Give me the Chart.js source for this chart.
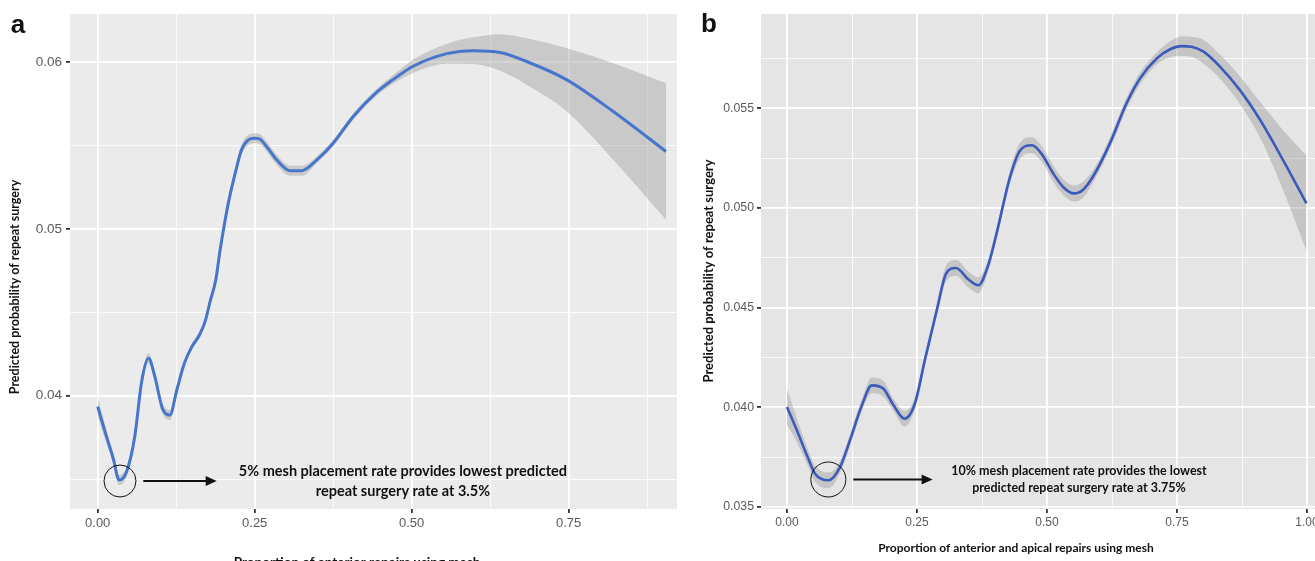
<!DOCTYPE html>
<html>
<head>
<meta charset="utf-8">
<script src="https://cdn.jsdelivr.net/npm/chart.js@4.4.1/dist/chart.umd.min.js"></script>
<style>
  body { margin: 0; background: #fff; }
  #wrap { position: relative; width: 1315px; height: 561px; overflow: hidden; }
  #wrap canvas { position: absolute; top: 0; }
  #chartA { left: 0; }
  #chartB { left: 690px; }
</style>
</head>
<body>
<div id="wrap">
  <canvas id="chartA" width="690" height="561"></canvas>
  <canvas id="chartB" width="650" height="561"></canvas>
</div>
<script>
// panel a: anterior repairs
const xA = [0.000, 0.014, 0.025, 0.034, 0.046, 0.059, 0.070, 0.081, 0.091, 0.103, 0.115, 0.126, 0.138, 0.150,
    0.162, 0.171, 0.179, 0.188, 0.195, 0.208, 0.219, 0.229, 0.240, 0.250, 0.258, 0.270, 0.285, 0.306, 0.325,
    0.349, 0.375, 0.407, 0.444, 0.481, 0.503, 0.556, 0.598, 0.641, 0.683, 0.747, 0.821, 0.905];
const yA = [0.03934, 0.03754, 0.03620, 0.03494, 0.03544, 0.03754, 0.04084, 0.04224, 0.04114, 0.03924, 0.03884,
    0.04034, 0.04194, 0.04294, 0.04364, 0.04444, 0.04565, 0.04694, 0.04875, 0.05155, 0.05335, 0.05475, 0.05535,
    0.05545, 0.05540, 0.05490, 0.05415, 0.05350, 0.05350, 0.05415, 0.05515, 0.05675, 0.05820, 0.05925, 0.05978,
    0.06052, 0.06070, 0.06059, 0.06005, 0.05895, 0.05705, 0.05465];
const seA = [0.0006, 0.0004, 0.0003, 0.0003, 0.0003, 0.0003, 0.0003, 0.0003, 0.0003, 0.0003, 0.0003, 0.0003,
    0.0002, 0.0002, 0.0002, 0.0002, 0.0002, 0.0002, 0.0002, 0.0002, 0.0002, 0.0003, 0.0003, 0.0003, 0.0003,
    0.0003, 0.0003, 0.0003, 0.0003, 0.0002, 0.0002, 0.0002, 0.0002, 0.0003, 0.0004, 0.0006, 0.0008, 0.0011,
    0.0014, 0.0019, 0.0029, 0.0041];

// panel b: anterior and apical repairs
const xB = [0.000, 0.019, 0.041, 0.054, 0.080, 0.102, 0.121, 0.144, 0.163, 0.185, 0.205, 0.226, 0.246, 0.265,
    0.288, 0.306, 0.325, 0.349, 0.368, 0.387, 0.403, 0.429, 0.448, 0.471, 0.490, 0.512, 0.532, 0.552, 0.570,
    0.592, 0.621, 0.653, 0.679, 0.711, 0.737, 0.759, 0.778, 0.801, 0.833, 0.871, 0.910, 0.954, 0.999];
const yB = [0.04002, 0.03885, 0.03742, 0.03667, 0.03634, 0.03700, 0.03834, 0.04010, 0.04110, 0.04094, 0.04010,
    0.03943, 0.04019, 0.04236, 0.04487, 0.04671, 0.04699, 0.04641, 0.04612, 0.04713, 0.04872, 0.05156, 0.05287,
    0.05315, 0.05270, 0.05173, 0.05103, 0.05073, 0.05093, 0.05173, 0.05324, 0.05525, 0.05650, 0.05750, 0.05796,
    0.05812, 0.05809, 0.05784, 0.05708, 0.05591, 0.05441, 0.05240, 0.05023];
const seB = [0.0009, 0.0006, 0.0004, 0.0004, 0.0004, 0.0003, 0.0003, 0.0003, 0.0004, 0.0004, 0.0003, 0.0004,
    0.0003, 0.0003, 0.0003, 0.0004, 0.0004, 0.0004, 0.0004, 0.0003, 0.0003, 0.0003, 0.0004, 0.0004, 0.0004,
    0.0004, 0.0004, 0.0004, 0.0004, 0.0003, 0.0003, 0.0003, 0.0003, 0.0003, 0.0004, 0.0005, 0.0005, 0.0006,
    0.0006, 0.0007, 0.0009, 0.0015, 0.0024];

// ticks
const xMajorA = [0, 0.25, 0.5, 0.75];
const xMinorA = [0.125, 0.375, 0.625, 0.875];
const xLabelsA = ["0.00", "0.25", "0.50", "0.75"];
const yMajorA = [0.04, 0.05, 0.06];
const yMinorA = [0.035, 0.045, 0.055];
const yLabelsA = ["0.04", "0.05", "0.06"];

const xMajorB = [0, 0.25, 0.5, 0.75, 1];
const xMinorB = [0.125, 0.375, 0.625, 0.875];
const xLabelsB = ["0.00", "0.25", "0.50", "0.75", "1.00"];
const yMajorB = [0.035, 0.04, 0.045, 0.05, 0.055];
const yMinorB = [0.0375, 0.0425, 0.0475, 0.0525, 0.0575];
const yLabelsB = ["0.035", "0.040", "0.045", "0.050", "0.055"];

// annotations (data units)
const circleA = [0.0355, 0.03488];
const arrowA = [0.0726, 0.1895, 0.03488];
const noteA = ["5% mesh placement rate provides lowest predicted", "repeat surgery rate at 3.5%"];
const noteAPos = [0.486, 0.03544, 0.03424];

const circleB = [0.0795, 0.03638];
const arrowB = [0.1275, 0.280, 0.03638];
const noteB = ["10% mesh placement rate provides the lowest", "predicted repeat surgery rate at 3.75%"];
const noteBPos = [0.5615, 0.03679, 0.03593];

const yTitle = "Predicted probability of repeat surgery";
const xTitleA = "Proportion of anterior repairs using mesh";
const xTitleB = "Proportion of anterior and apical repairs using mesh";

const pts = (xs, ys) => xs.map((x, i) => ({ x, y: ys[i] }));

function axis(min, max, major, minor, labels, fit, font, pad) {
    return {
        type: "linear",
        min, max,
        afterFit: fit,
        afterBuildTicks: s => {
            s.ticks = [...major, ...minor].sort((a, b) => a - b).map(v => ({ value: v }));
        },
        border: { display: false },
        grid: {
            color: "#ffffff",
            lineWidth: c => major.includes(c.tick.value) ? 1.8 : 0.8,
            tickColor: c => major.includes(c.tick.value) ? "#333333" : "rgba(0,0,0,0)",
            tickLength: 4,
            drawTicks: true
        },
        ticks: {
            autoSkip: false,
            maxRotation: 0,
            padding: pad,
            color: "#5a5a5a",
            font: { family: "Liberation Sans", size: font },
            callback: v => {
                const i = major.indexOf(v);
                return i >= 0 ? labels[i] : "";
            }
        }
    };
}

function decor(bg, circle, arrow, note, notePos, noteFont, texts) {
    return {
        id: "decor",
        beforeDraw(chart) {
            const { ctx, chartArea: a } = chart;
            ctx.save();
            ctx.fillStyle = bg;
            ctx.fillRect(a.left, a.top, a.right - a.left, a.bottom - a.top);
            ctx.restore();
        },
        afterDatasetsDraw(chart) {
            const { ctx } = chart;
            const sx = chart.scales.x, sy = chart.scales.y;
            ctx.save();
            ctx.strokeStyle = "#111";
            ctx.lineWidth = 1;
            ctx.beginPath();
            ctx.arc(sx.getPixelForValue(circle[0]), sy.getPixelForValue(circle[1]), circle[2], 0, Math.PI * 2);
            ctx.stroke();

            const x0 = sx.getPixelForValue(arrow[0]);
            const x1 = sx.getPixelForValue(arrow[1]);
            const ay = sy.getPixelForValue(arrow[2]);
            ctx.lineWidth = 2;
            ctx.beginPath();
            ctx.moveTo(x0, ay);
            ctx.lineTo(x1 - 9, ay);
            ctx.stroke();
            ctx.fillStyle = "#111";
            ctx.beginPath();
            ctx.moveTo(x1, ay);
            ctx.lineTo(x1 - 11, ay - 5);
            ctx.lineTo(x1 - 11, ay + 5);
            ctx.closePath();
            ctx.fill();

            ctx.font = `bold ${noteFont}px Lato`;
            ctx.textAlign = "center";
            ctx.textBaseline = "middle";
            const tx = sx.getPixelForValue(notePos[0]);
            note.forEach((t, i) => ctx.fillText(t, tx, sy.getPixelForValue(notePos[i + 1])));
            ctx.restore();
        },
        afterDraw(chart) {
            const { ctx } = chart;
            ctx.save();
            ctx.fillStyle = "#111";
            ctx.textAlign = "center";
            ctx.textBaseline = "middle";
            texts.forEach(t => {
                ctx.save();
                ctx.font = t.font;
                ctx.translate(t.x, t.y);
                ctx.rotate(t.rot || 0);
                ctx.fillText(t.text, 0, 0);
                ctx.restore();
            });
            ctx.restore();
        }
    };
}

function makeChart(id, xs, ys, se, color, width, scales, plugin) {
    const lower = pts(xs, ys.map((y, i) => y - se[i]));
    const upper = pts(xs, ys.map((y, i) => y + se[i]));
    new Chart(document.getElementById(id), {
        type: "line",
        data: {
            datasets: [
                { data: lower, order: 2, borderWidth: 0, pointRadius: 0, fill: false,
                  cubicInterpolationMode: "monotone" },
                { data: upper, order: 2, borderWidth: 0, pointRadius: 0, fill: "-1",
                  backgroundColor: "rgba(150,150,150,0.4)", cubicInterpolationMode: "monotone" },
                { data: pts(xs, ys), order: 0, borderColor: color, borderWidth: width, pointRadius: 0,
                  fill: false, cubicInterpolationMode: "monotone" }
            ]
        },
        options: {
            responsive: false,
            animation: false,
            layout: scales.padding,
            plugins: { legend: { display: false }, tooltip: { enabled: false } },
            scales: { x: scales.x, y: scales.y }
        },
        plugins: [plugin]
    });
}

makeChart("chartA", xA, yA, seA, "#4676cc", 3, {
    padding: { padding: { left: 0, top: 14, right: 13, bottom: 0 } },
    x: axis(-0.0441, 0.9225, xMajorA, xMinorA, xLabelsA, s => { s.height = 52; }, 13, 3),
    y: axis(0.0332, 0.0629, yMajorA, yMinorA, yLabelsA, s => { s.width = 70; }, 13.5, 4)
}, decor("#ebebeb", [...circleA, 16], arrowA, noteA, noteAPos, 14.5, [
    { text: "a", x: 18, y: 26, font: "bold 26px Liberation Sans" },
    { text: yTitle, x: 15, y: 287, rot: -Math.PI / 2, font: "bold 12.5px Lato" },
    { text: xTitleA, x: 357, y: 563, font: "bold 13.5px Lato" }
]));

makeChart("chartB", xB, yB, seB, "#3a5bbb", 2.6, {
    padding: { padding: { left: 0, top: 14, right: 7, bottom: 0 } },
    x: axis(-0.05, 1.05, xMajorB, xMinorB, xLabelsB, s => { s.height = 52; }, 12, 2),
    y: axis(0.0349, 0.05973, yMajorB, yMinorB, yLabelsB, s => { s.width = 71; }, 12.3, 3)
}, decor("#e5e5e5", [...circleB, 17.5], arrowB, noteB, noteBPos, 12.5, [
    { text: "b", x: 19, y: 25, font: "bold 26px Liberation Sans" },
    { text: yTitle, x: 19, y: 271, rot: -Math.PI / 2, font: "bold 13px Lato" },
    { text: xTitleB, x: 326, y: 548, font: "bold 12px Lato" }
]));
</script>
</body>
</html>
